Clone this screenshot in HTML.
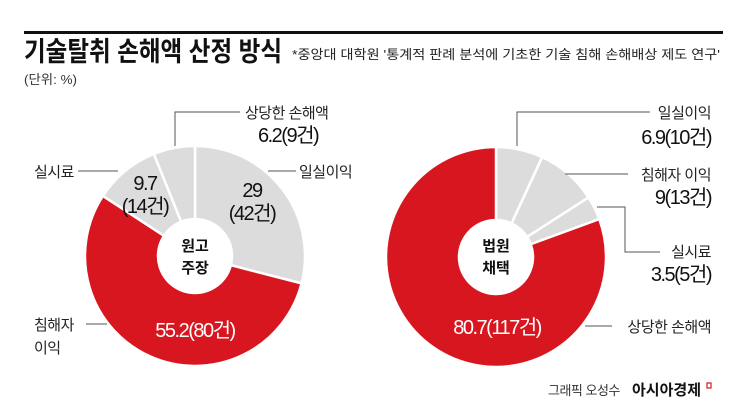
<!DOCTYPE html>
<html><head><meta charset="utf-8"><style>
html,body{margin:0;padding:0;background:#fff;}
svg{display:block;font-family:"Liberation Sans","Noto Sans CJK KR",sans-serif;}
</style></head><body>
<svg width="745" height="416" viewBox="0 0 745 416" xmlns="http://www.w3.org/2000/svg">
<rect width="745" height="416" fill="#fff"/>
<rect x="24" y="31" width="699" height="3" fill="#111"/>
<text x="24" y="61" font-size="27" font-weight="bold" fill="#111" textLength="258" lengthAdjust="spacingAndGlyphs">기술탈취 손해액 산정 방식</text>
<text x="292" y="59" font-size="13" fill="#222" textLength="428" lengthAdjust="spacingAndGlyphs">*중앙대 대학원 '통계적 판례 분석에 기초한 기술 침해 손해배상 제도 연구'</text>
<text x="24" y="84" font-size="13" fill="#333" textLength="53" lengthAdjust="spacingAndGlyphs">(단위: %)</text>
<g id="after"></g>
<script>
function arc(cx,cy,R,r,a0,a1){const p=(a,rad)=>[cx+rad*Math.sin(a*Math.PI/180),cy-rad*Math.cos(a*Math.PI/180)];
const l=(a1-a0)>180?1:0;const A=p(a0,R),B=p(a1,R),C=p(a1,r),D=p(a0,r);
return `M${A[0]},${A[1]} A${R},${R} 0 ${l} 1 ${B[0]},${B[1]} L${C[0]},${C[1]} A${r},${r} 0 ${l} 0 ${D[0]},${D[1]} Z`;}
const ns="http://www.w3.org/2000/svg";const svg=document.querySelector('svg');
function donut(cx,cy,vals){let a=0;const R=110,r=37;
for(const [v,c] of vals){const a1=a+v*3.6;const e=document.createElementNS(ns,'path');
e.setAttribute('d',arc(cx,cy,R,r,a,a1));e.setAttribute('fill',c);e.setAttribute('stroke','#fff');e.setAttribute('stroke-width','2.5');
svg.insertBefore(e,svg.querySelector('#after'));a=a1;}}
donut(195,256,[[29,'#dcdcdc'],[55.2,'#d8161f'],[9.7,'#dcdcdc'],[6.1,'#dcdcdc']]);
donut(496,257,[[6.9,'#dcdcdc'],[9,'#dcdcdc'],[3.5,'#dcdcdc'],[80.6,'#d8161f']]);
</script>

<g fill="none" stroke="#555" stroke-width="1">
<polyline points="175,146 175,112 240,112"/>
<line x1="268" y1="171" x2="296" y2="171"/>
<line x1="78" y1="171" x2="118" y2="171"/>
<line x1="86" y1="324" x2="107" y2="324"/>
<polyline points="517,146 517,112 650,112"/>
<line x1="565" y1="174" x2="628" y2="174"/>
<polyline points="597,207 625,207 625,252 660,252"/>
<line x1="585" y1="326" x2="612" y2="326"/>
</g>

<g font-size="15" fill="#222" letter-spacing="-0.5">
<text x="245" y="118">상당한 손해액</text>
<text x="299" y="177">일실이익</text>
<text x="34" y="177">실시료</text>
<text x="34" y="330">침해자</text>
<text x="34" y="353">이익</text>
<text x="711" y="118" text-anchor="end">일실이익</text>
<text x="711" y="180" text-anchor="end">침해자 이익</text>
<text x="711" y="257" text-anchor="end">실시료</text>
<text x="711" y="332" text-anchor="end">상당한 손해액</text>
</g>
<g font-size="20" fill="#111" letter-spacing="-1.5">
<text x="258" y="142">6.2(9건)</text>
<text x="711" y="144" text-anchor="end">6.9(10건)</text>
<text x="711" y="204" text-anchor="end">9(13건)</text>
<text x="711" y="281" text-anchor="end">3.5(5건)</text>
<text x="145" y="190" text-anchor="middle">9.7</text>
<text x="145" y="213" text-anchor="middle">(14건)</text>
<text x="252" y="197" text-anchor="middle">29</text>
<text x="252" y="220" text-anchor="middle">(42건)</text>
</g>
<g font-size="20" fill="#fff" letter-spacing="-1.5" text-anchor="middle">
<text x="195" y="337">55.2(80건)</text>
<text x="497" y="334">80.7(117건)</text>
</g>
<g font-size="15" font-weight="bold" fill="#111" text-anchor="middle">
<text x="195" y="251">원고</text>
<text x="195" y="273">주장</text>
<text x="496" y="251">법원</text>
<text x="496" y="273">채택</text>
</g>
<text x="548" y="395" font-size="13" fill="#333" letter-spacing="-0.5">그래픽 오성수</text>
<text x="632" y="395" font-size="15" font-weight="bold" fill="#111">아시아경제</text>
<rect x="707" y="383" width="4" height="5" fill="none" stroke="#d8161f" stroke-width="1.2"/>
</svg>
</body></html>
